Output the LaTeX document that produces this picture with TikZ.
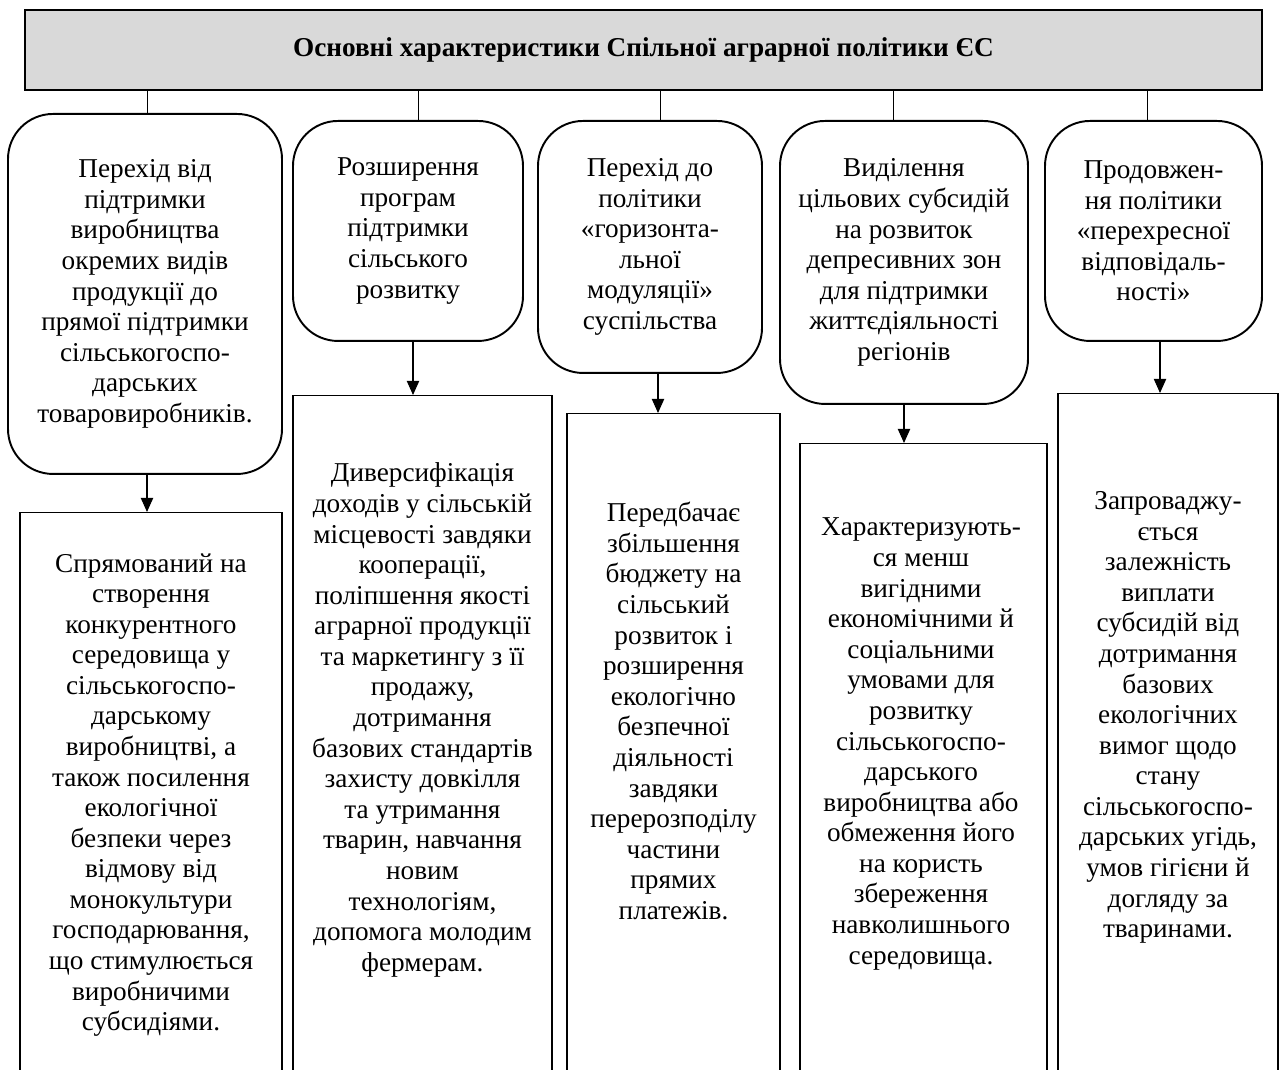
\documentclass[tikz,border=0pt]{standalone}
\usepackage{fontspec}
\setmainfont{Liberation Serif}
\usetikzlibrary{arrows.meta}
\definecolor{titlegray}{RGB}{217,217,217}
\tikzset{
    headbox/.style={
        rectangle,
        draw=black,
        line width=1.4pt,
        fill=titlegray,
        minimum width=24.74cm,
        minimum height=1.6cm,
        font=\fontsize{15.5}{17.4}\selectfont\bfseries
    },
    pill/.style={
        rectangle,
        rounded corners=0.9cm,
        draw=black,
        line width=1.1pt,
        fill=white,
        anchor=north,
        align=center,
        font=\fontsize{15.5}{17.4}\selectfont
    },
    plainbox/.style={
        rectangle,
        draw=black,
        line width=0.8pt,
        anchor=north,
        minimum height=14cm
    },
    boxtext/.style={
        align=center,
        font=\fontsize{15.5}{17.4}\selectfont
    }
}

\begin{document}
\begin{tikzpicture}[>={Triangle[width=7pt,length=8pt]}]

    \useasboundingbox (0,0) rectangle (25.6,-21.4);
    \clip (0,0) rectangle (25.6,-21.4);

    % Title
    \node[headbox] (title) at (12.87,-1.0) {Основні характеристики Спільної аграрної політики ЄС};

    % Upper row: rounded boxes
    \node[pill, minimum width=5.48cm, minimum height=7.2cm] (b1) at (2.9,-2.26)
        {Перехід від\\підтримки\\виробництва\\окремих видів\\продукції до\\прямої підтримки\\сільськогоспо-\\дарських\\товаровиробників.};
    \node[pill, minimum width=4.6cm, minimum height=4.4cm] (b2) at (8.16,-2.4)
        {Розширення\\програм\\підтримки\\сільського\\розвитку};
    \node[pill, minimum width=4.48cm, minimum height=5.04cm] (b3) at (13.0,-2.4)
        {Перехід до\\політики\\«горизонта-\\льної\\модуляції»\\суспільства};
    \node[pill, minimum width=4.96cm, minimum height=5.66cm] (b4) at (18.08,-2.4)
        {Виділення\\цільових субсидій\\на розвиток\\депресивних зон\\для підтримки\\життєдіяльності\\регіонів};
    \node[pill, minimum width=4.34cm, minimum height=4.4cm] (b5) at (23.07,-2.4)
        {Продовжен-\\ня політики\\«перехресної\\відповідаль-\\ності»};

    % Lower row: open rectangles (run past the page bottom)
    \node[plainbox, minimum width=5.24cm] (r1) at (3.02,-10.24) {};
    \node[plainbox, minimum width=5.18cm] (r2) at (8.45,-7.9) {};
    \node[plainbox, minimum width=4.26cm] (r3) at (13.47,-8.26) {};
    \node[plainbox, minimum width=4.94cm] (r4) at (18.47,-8.86) {};
    \node[plainbox, minimum width=4.4cm] (r5) at (23.36,-7.86) {};

    % Texts of the lower row
    \node[boxtext] (t1) at (3.02,-15.9)
        {Спрямований на\\створення\\конкурентного\\середовища у\\сільськогоспо-\\дарському\\виробництві, а\\також посилення\\екологічної\\безпеки через\\відмову від\\монокультури\\господарювання,\\що стимулюється\\виробничими\\субсидіями.};
    \node[boxtext] (t2) at (8.45,-14.4)
        {Диверсифікація\\доходів у сільській\\місцевості завдяки\\кооперації,\\поліпшення якості\\аграрної продукції\\та маркетингу з її\\продажу,\\дотримання\\базових стандартів\\захисту довкілля\\та утримання\\тварин, навчання\\новим\\технологіям,\\допомога молодим\\фермерам.};
    \node[boxtext] (t3) at (13.47,-14.22)
        {Передбачає\\збільшення\\бюджету на\\сільський\\розвиток і\\розширення\\екологічно\\безпечної\\діяльності\\завдяки\\перерозподілу\\частини\\прямих\\платежів.};
    \node[boxtext] (t4) at (18.42,-14.88)
        {Характеризують-\\ся менш\\вигідними\\економічними й\\соціальними\\умовами для\\розвитку\\сільськогоспо-\\дарського\\виробництва або\\обмеження його\\на користь\\збереження\\навколишнього\\середовища.};
    \node[boxtext] (t5) at (23.36,-14.35)
        {Запроваджу-\\ється\\залежність\\виплати\\субсидій від\\дотримання\\базових\\екологічних\\вимог щодо\\стану\\сільськогоспо-\\дарських угідь,\\умов гігієни й\\догляду за\\тваринами.};

    % Title to upper boxes
    \draw[line width=0.5pt] ([xshift=0.04cm]b1.north) -- ([xshift=0.04cm]b1.north |- title.south);
    \draw[line width=0.5pt] ([xshift=0.2cm]b2.north) -- ([xshift=0.2cm]b2.north |- title.south);
    \draw[line width=0.5pt] ([xshift=0.2cm]b3.north) -- ([xshift=0.2cm]b3.north |- title.south);
    \draw[line width=0.5pt] ([xshift=-0.22cm]b4.north) -- ([xshift=-0.22cm]b4.north |- title.south);
    \draw[line width=0.5pt] ([xshift=-0.13cm]b5.north) -- ([xshift=-0.13cm]b5.north |- title.south);

    % Upper boxes to lower rectangles
    \draw[->, line width=0.6pt] ([xshift=0.04cm]b1.south) -- ([xshift=0.04cm]b1.south |- r1.north);
    \draw[->, line width=0.6pt] ([xshift=0.1cm]b2.south) -- ([xshift=0.1cm]b2.south |- r2.north);
    \draw[->, line width=0.6pt] ([xshift=0.16cm]b3.south) -- ([xshift=0.16cm]b3.south |- r3.north);
    \draw[->, line width=0.6pt] (b4.south) -- (b4.south |- r4.north);
    \draw[->, line width=0.6pt] ([xshift=0.13cm]b5.south) -- ([xshift=0.13cm]b5.south |- r5.north);

\end{tikzpicture}
\end{document}
